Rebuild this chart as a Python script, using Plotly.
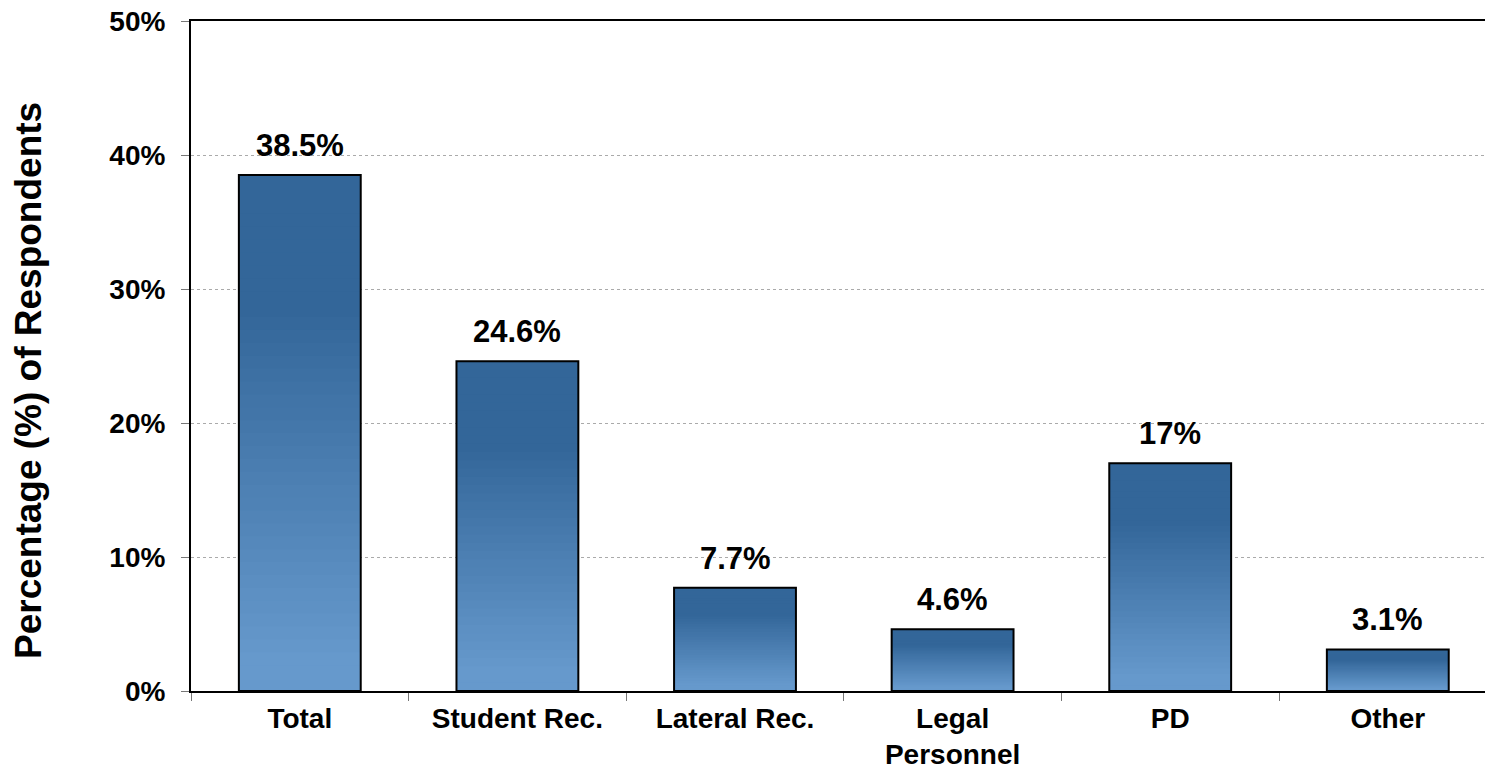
import plotly.graph_objects as go

categories = ["Total", "Student Rec.", "Lateral Rec.", "Legal<br>Personnel", "PD", "Other"]
values = [38.5, 24.6, 7.7, 4.6, 17, 3.1]
y_ticks = [0, 10, 20, 30, 40, 50]
y_tick_labels = ["0%", "10%", "20%", "30%", "40%", "50%"]
y_title = "Percentage (%) of Respondents"

FONT = "Arial, 'Liberation Sans', sans-serif"
BOTTOM = (102, 153, 204)
TOP = (51, 102, 153)
N = 40
BAR_W = 0.56

fig = go.Figure()
for i in range(N):
    t = i / (N - 1)
    s = max(0.0, min(1.0, (t - 0.05) / 0.7))
    col = tuple(round(BOTTOM[k] + (TOP[k] - BOTTOM[k]) * s) for k in range(3))
    fig.add_trace(go.Bar(
        x=categories,
        y=[v * (N - i) / N for v in values],
        base=[v * i / N for v in values],
        width=BAR_W,
        marker=dict(color="rgb(%d,%d,%d)" % col, line=dict(width=0)),
        hoverinfo="skip", showlegend=False,
    ))

fig.add_trace(go.Bar(
    x=categories, y=values, width=BAR_W,
    marker=dict(color="rgba(0,0,0,0)", line=dict(color="black", width=2)),
    hoverinfo="skip", showlegend=False,
))

for c, v in zip(categories, values):
    fig.add_annotation(
        x=c, y=v, xref="x", yref="y", text=f"{v:g}%", showarrow=False,
        yanchor="bottom", yshift=10,
        font=dict(family=FONT, size=31, color="black", weight="bold"),
    )

fig.add_annotation(
    xref="paper", yref="paper", x=(28 - 191) / 1294, y=(691 - 381) / 670,
    xanchor="center", yanchor="middle", textangle=-90, showarrow=False,
    text=y_title, font=dict(family=FONT, size=37, color="black", weight="bold"),
)

fig.update_layout(
    width=1485, height=772,
    margin=dict(l=191, r=0, t=21, b=81),
    paper_bgcolor="white", plot_bgcolor="white",
    barmode="overlay", bargap=0.44,
    xaxis=dict(
        range=[-0.5, -0.5 + 1294 / 217.6], automargin=False,
        showline=True, linecolor="black", linewidth=2, mirror=True,
        ticks="outside", tickson="boundaries", ticklen=8, tickcolor="#777", tickwidth=1,
        showgrid=False,
        tickfont=dict(family=FONT, size=28, color="black", weight="bold"),
        ticklabelstandoff=1,
    ),
    yaxis=dict(
        range=[0, 50], tickvals=y_ticks, ticktext=y_tick_labels, automargin=False,
        showline=True, linecolor="black", linewidth=2,
        ticks="outside", ticklen=8, tickcolor="#777", tickwidth=1,
        showgrid=True, gridcolor="#aaaaaa", griddash="dot", gridwidth=1,
        zeroline=False,
        tickfont=dict(family=FONT, size=28, color="black", weight="bold"),
        ticklabelstandoff=10,
    ),
)

fig.write_html("out.html")
